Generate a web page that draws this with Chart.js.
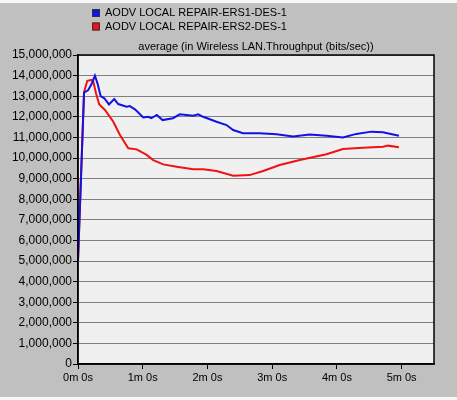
<!DOCTYPE html>
<html>
<head>
<meta charset="utf-8">
<script src="https://cdn.jsdelivr.net/npm/chart.js@4/dist/chart.umd.min.js"></script>
<style>
  html, body { margin: 0; padding: 0; background: #c0c0c0; }
  #wrap { width: 457px; height: 400px; position: relative; }
</style>
</head>
<body>
<div id="wrap"><canvas id="c" width="457" height="400"></canvas></div>
<script>
// ---- data (time in seconds, throughput in bits/sec) ----
const seriesLabels = ["AODV LOCAL REPAIR-ERS1-DES-1", "AODV LOCAL REPAIR-ERS2-DES-1"];
const chartTitle = "average (in Wireless LAN.Throughput (bits/sec))";
const xTickValues = [0, 60, 120, 180, 240, 300];
const xTickLabels = ["0m 0s", "1m 0s", "2m 0s", "3m 0s", "4m 0s", "5m 0s"];

const ers1Times = [0, 5.6, 9.5, 12.7, 15.7, 18.2, 21, 24.4, 28.7, 33.6, 37.3, 45, 48, 52.8, 60.5, 65, 68, 73, 78.4, 88, 94.4, 106.8, 111.4, 116, 128.4, 137.7, 143.8, 153, 168.5, 184, 199.4, 214.8, 230.3, 245.6, 258, 272, 282.7, 297.5];
const ers1Values = [5000000, 13170000, 13300000, 13600000, 14000000, 13600000, 13000000, 12900000, 12600000, 12860000, 12620000, 12490000, 12520000, 12360000, 11970000, 12000000, 11930000, 12090000, 11840000, 11930000, 12120000, 12050000, 12120000, 12000000, 11760000, 11600000, 11360000, 11200000, 11200000, 11150000, 11040000, 11140000, 11080000, 11000000, 11170000, 11280000, 11250000, 11080000];

const ers2Times = [0, 5.6, 8.6, 12.7, 14.2, 16.7, 19.7, 25, 32.7, 38.9, 46.6, 54.4, 63.6, 69.7, 79, 91.4, 106.8, 116, 128.4, 143.8, 159, 171.6, 187, 205.6, 230.3, 245.6, 264, 282.7, 287.3, 297.5];
const ers2Values = [5000000, 13200000, 13750000, 13790000, 13700000, 13140000, 12600000, 12330000, 11760000, 11120000, 10470000, 10420000, 10150000, 9900000, 9690000, 9580000, 9450000, 9450000, 9370000, 9140000, 9170000, 9370000, 9660000, 9900000, 10180000, 10440000, 10500000, 10550000, 10600000, 10520000];

const seriesColors = ["#1212e6", "#ee1212"];

function toPoints(ts, vs) { return ts.map((t, i) => ({ x: t, y: vs[i] })); }

const frame = {
  id: 'frame',
  beforeDraw(chart) {
    const ctx = chart.ctx, a = chart.chartArea;
    ctx.save();
    ctx.fillStyle = '#c0c0c0';
    ctx.fillRect(0, 0, chart.width, chart.height);
    ctx.fillStyle = '#f8f8f8';
    ctx.fillRect(0, 0, chart.width, 3);
    ctx.fillRect(0, 397, chart.width, 3);
    ctx.fillStyle = '#f0f0f0';
    ctx.fillRect(a.left, a.top, a.right - a.left, a.bottom - a.top);
    ctx.restore();
  },
  afterDraw(chart) {
    const ctx = chart.ctx, a = chart.chartArea;
    ctx.save();
    ctx.strokeStyle = '#000';
    ctx.lineWidth = 1.5;
    ctx.strokeRect(a.left, a.top, a.right - a.left, a.bottom - a.top);
    // title
    ctx.fillStyle = '#000';
    ctx.font = '11px "Liberation Sans", Arial, sans-serif';
    ctx.textAlign = 'center';
    ctx.textBaseline = 'middle';
    ctx.fillText(chartTitle, (a.left + a.right) / 2, 47);
    // legend
    ctx.textAlign = 'left';
    chart.data.datasets.forEach((ds, i) => {
      const y = 13 + i * 13.5;
      ctx.fillStyle = ds.borderColor;
      ctx.fillRect(92, y - 4, 8, 8);
      ctx.strokeStyle = '#333';
      ctx.lineWidth = 1;
      ctx.strokeRect(92.5, y - 3.5, 7, 7);
      ctx.fillStyle = '#000';
      ctx.fillText(ds.label, 105, y);
    });
    ctx.restore();
  }
};

new Chart(document.getElementById('c'), {
  type: 'line',
  data: {
    datasets: [
      { label: seriesLabels[0], data: toPoints(ers1Times, ers1Values), borderColor: seriesColors[0], backgroundColor: seriesColors[0], borderWidth: 2, pointRadius: 0, tension: 0 },
      { label: seriesLabels[1], data: toPoints(ers2Times, ers2Values), borderColor: seriesColors[1], backgroundColor: seriesColors[1], borderWidth: 2, pointRadius: 0, tension: 0 }
    ]
  },
  options: {
    responsive: false,
    animation: false,
    events: [],
    layout: { padding: { top: 55, right: 23, left: 0, bottom: 0 } },
    plugins: { legend: { display: false }, title: { display: false }, tooltip: { enabled: false } },
    scales: {
      x: {
        type: 'linear', min: 0, max: 330,
        afterFit(s) { s.height = 36; },
        afterBuildTicks(s) { s.ticks = xTickValues.map(v => ({ value: v })); },
        ticks: {
          color: '#000', padding: 2, maxRotation: 0, autoSkip: false,
          font: { family: '"Liberation Sans", Arial, sans-serif', size: 11 },
          callback(v) { const i = xTickValues.indexOf(v); return i >= 0 ? xTickLabels[i] : ''; }
        },
        grid: { drawOnChartArea: false, drawTicks: true, tickLength: 5, tickColor: '#000', color: '#000' },
        border: { color: '#000', width: 1.5 }
      },
      y: {
        min: 0, max: 15000000,
        afterFit(s) { s.width = 78; },
        ticks: {
          stepSize: 1000000, color: '#000', padding: 1,
          font: { family: '"Liberation Sans", Arial, sans-serif', size: 12 },
          callback(v) { return Number(v).toLocaleString('en-US'); }
        },
        grid: { color: '#808080', lineWidth: 1, tickLength: 5, tickColor: '#000' },
        border: { color: '#000', width: 1.5 }
      }
    }
  },
  plugins: [frame]
});
</script>
</body>
</html>
